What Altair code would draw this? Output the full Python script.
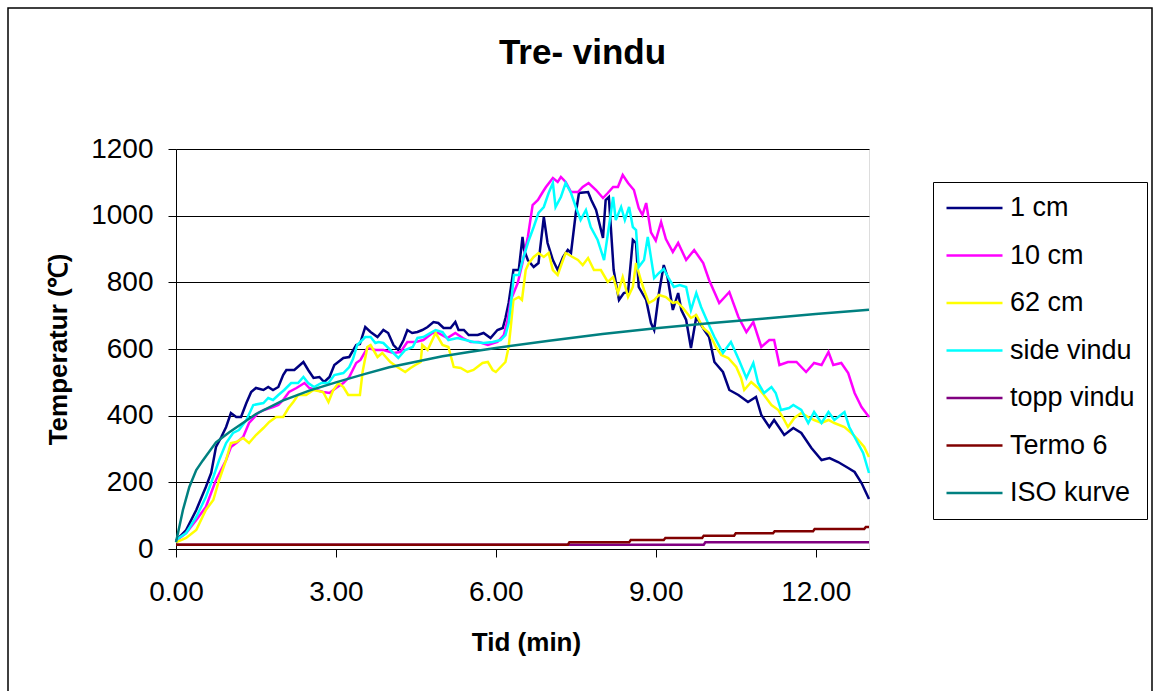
import altair as alt
import pandas as pd

SERIES = ["1 cm", "10 cm", "62 cm", "side vindu", "topp vindu", "Termo 6", "ISO kurve"]
COLORS = ["#000080", "#FF00FF", "#FFFF00", "#00FFFF", "#800080", "#800000", "#008080"]

X_TICKS = [0, 3, 6, 9, 12]
Y_TICKS = [0, 200, 400, 600, 800, 1000, 1200]

# ---- 1 cm ----
t_1cm = [0, 0.19, 0.38, 0.56, 0.66, 0.75, 0.85, 0.94, 1.03, 1.13,
         1.22, 1.32, 1.41, 1.50, 1.64, 1.73, 1.82, 1.92, 2.01, 2.07,
         2.22, 2.39, 2.48, 2.58, 2.69, 2.78, 2.88, 2.97, 3.14, 3.25,
         3.38, 3.45, 3.55, 3.65, 3.78, 3.89, 3.98, 4.08, 4.17, 4.27,
         4.34, 4.43, 4.53, 4.62, 4.72, 4.83, 4.92, 5.02, 5.15, 5.24,
         5.30, 5.40, 5.49, 5.66, 5.77, 5.90, 6.03, 6.13, 6.18, 6.24,
         6.33, 6.43, 6.50, 6.53, 6.60, 6.71, 6.80, 6.90, 6.97, 7.07,
         7.16, 7.26, 7.35, 7.41, 7.50, 7.56, 7.73, 7.79, 7.88, 8.01,
         8.06, 8.12, 8.21, 8.31, 8.40, 8.48, 8.57, 8.63, 8.68, 8.82,
         8.91, 8.97, 9.06, 9.15, 9.22, 9.32, 9.42, 9.48, 9.57, 9.66,
         9.76, 9.91, 10.0, 10.1, 10.26, 10.38, 10.55, 10.73, 10.88, 10.98,
         11.13, 11.22, 11.41, 11.58, 11.73, 11.92, 12.11, 12.26, 12.42, 12.61,
         12.73, 12.86, 13.0]
v_1cm = [25, 57, 117, 186, 228, 306, 336, 366, 408, 396,
         396, 438, 471, 483, 477, 486, 477, 486, 522, 537,
         537, 561, 537, 513, 516, 501, 516, 552, 573, 576,
         612, 615, 666, 651, 636, 657, 648, 612, 597, 627,
         657, 648, 651, 657, 666, 681, 678, 663, 663, 681,
         657, 657, 642, 642, 648, 633, 657, 663, 693, 738,
         837, 837, 936, 897, 867, 846, 858, 996, 918, 867,
         837, 876, 897, 888, 1008, 1068, 1071, 1047, 1017, 933,
         1047, 1056, 837, 747, 768, 771, 927, 918, 786, 747,
         678, 657, 768, 852, 816, 717, 768, 717, 687, 603,
         696, 657, 636, 561, 531, 477, 462, 441, 456, 402,
         366, 387, 342, 363, 348, 303, 267, 273, 261, 243,
         231, 198, 150]

# ---- 10 cm ----
t_10cm = [0, 0.19, 0.38, 0.56, 0.75, 0.94, 1.03, 1.13, 1.26, 1.37,
          1.54, 1.65, 1.82, 1.92, 2.01, 2.12, 2.26, 2.41, 2.50, 2.63,
          2.76, 2.88, 3.0, 3.14, 3.25, 3.38, 3.46, 3.59, 3.74, 3.89,
          4.08, 4.21, 4.34, 4.49, 4.64, 4.81, 4.92, 5.09, 5.24, 5.38,
          5.53, 5.68, 5.85, 6.03, 6.15, 6.22, 6.28, 6.41, 6.50, 6.60,
          6.69, 6.79, 6.88, 6.94, 7.07, 7.16, 7.22, 7.31, 7.41, 7.54,
          7.63, 7.74, 7.88, 8.01, 8.10, 8.20, 8.29, 8.38, 8.48, 8.59,
          8.68, 8.75, 8.82, 8.91, 9.0, 9.10, 9.19, 9.32, 9.42, 9.57,
          9.72, 9.89, 10.0, 10.19, 10.38, 10.55, 10.70, 10.83, 10.98, 11.13,
          11.22, 11.32, 11.48, 11.64, 11.82, 11.97, 12.11, 12.24, 12.33, 12.48,
          12.61, 12.73, 12.86, 13.0]
v_10cm = [25, 48, 87, 126, 207, 267, 306, 318, 336, 378,
          408, 417, 426, 432, 447, 471, 483, 498, 483, 477,
          471, 468, 483, 498, 516, 558, 567, 603, 597, 597,
          588, 591, 621, 621, 627, 648, 648, 633, 648, 633,
          621, 621, 612, 621, 642, 687, 747, 798, 858, 936,
          1032, 1047, 1071, 1086, 1113, 1101, 1116, 1101, 1071, 1071,
          1086, 1098, 1077, 1053, 1068, 1086, 1086, 1122, 1098, 1077,
          1023, 1002, 1038, 950, 925, 981, 930, 891, 918, 867,
          897, 858, 807, 738, 771, 696, 651, 681, 606, 627,
          627, 552, 561, 561, 531, 558, 552, 591, 552, 558,
          528, 468, 426, 396]

# ---- 62 cm ----
t_62cm = [0, 0.19, 0.38, 0.56, 0.70, 0.81, 0.94, 1.03, 1.13, 1.26,
          1.37, 1.50, 1.64, 1.75, 1.88, 2.01, 2.11, 2.20, 2.29, 2.44,
          2.58, 2.76, 2.86, 2.95, 3.05, 3.14, 3.23, 3.45, 3.50, 3.59,
          3.65, 3.78, 3.87, 4.02, 4.15, 4.30, 4.40, 4.49, 4.59, 4.62,
          4.72, 4.87, 5.0, 5.11, 5.21, 5.34, 5.47, 5.58, 5.75, 5.85,
          5.94, 6.0, 6.09, 6.18, 6.24, 6.28, 6.33, 6.43, 6.49, 6.56,
          6.62, 6.71, 6.80, 6.90, 6.99, 7.07, 7.16, 7.26, 7.31, 7.44,
          7.54, 7.63, 7.73, 7.84, 7.97, 8.10, 8.20, 8.29, 8.38, 8.48,
          8.57, 8.63, 8.72, 8.78, 8.87, 8.97, 9.06, 9.19, 9.32, 9.40,
          9.51, 9.66, 9.76, 9.89, 10.0, 10.13, 10.23, 10.36, 10.51, 10.60,
          10.66, 10.79, 10.92, 11.03, 11.17, 11.30, 11.39, 11.48, 11.60, 11.73,
          11.86, 11.97, 12.11, 12.24, 12.35, 12.54, 12.67, 12.80, 12.91, 13.0]
v_62cm = [20, 33, 57, 117, 147, 207, 267, 318, 321, 333,
          318, 342, 363, 381, 396, 396, 423, 441, 462, 462,
          477, 471, 441, 477, 498, 486, 462, 462, 531, 606,
          612, 576, 588, 561, 546, 531, 543, 552, 561, 612,
          597, 648, 612, 606, 546, 543, 531, 537, 558, 561,
          537, 531, 546, 561, 606, 666, 747, 756, 747, 837,
          858, 876, 888, 876, 888, 837, 822, 867, 888, 876,
          867, 852, 873, 837, 837, 801, 816, 768, 816, 756,
          786, 858, 807, 777, 738, 747, 762, 756, 738, 741,
          723, 693, 702, 663, 648, 606, 582, 573, 546, 513,
          477, 501, 483, 462, 432, 417, 393, 366, 393, 408,
          396, 387, 378, 387, 378, 366, 348, 327, 306, 276]

# ---- side vindu ----
t_side = [0, 0.19, 0.38, 0.56, 0.70, 0.81, 0.94, 1.07, 1.18, 1.32,
          1.45, 1.64, 1.73, 1.82, 1.92, 2.03, 2.16, 2.29, 2.39, 2.48,
          2.59, 2.73, 2.86, 2.97, 3.14, 3.25, 3.32, 3.40, 3.55, 3.65,
          3.74, 3.80, 3.89, 4.02, 4.17, 4.30, 4.44, 4.53, 4.64, 4.77,
          4.87, 5.0, 5.11, 5.28, 5.43, 5.58, 5.77, 5.94, 6.09, 6.18,
          6.24, 6.29, 6.34, 6.43, 6.52, 6.62, 6.71, 6.80, 6.90, 6.99,
          7.07, 7.12, 7.22, 7.31, 7.41, 7.50, 7.59, 7.69, 7.78, 7.91,
          8.03, 8.12, 8.20, 8.25, 8.35, 8.42, 8.50, 8.57, 8.63, 8.68,
          8.78, 8.85, 8.97, 9.06, 9.15, 9.25, 9.34, 9.45, 9.57, 9.66,
          9.76, 9.85, 9.98, 10.1, 10.26, 10.41, 10.56, 10.70, 10.83, 10.92,
          11.03, 11.17, 11.25, 11.35, 11.50, 11.58, 11.73, 11.86, 11.97, 12.11,
          12.24, 12.35, 12.54, 12.63, 12.76, 12.89, 13.0]
v_side = [27, 48, 96, 156, 216, 267, 318, 348, 357, 387,
          432, 438, 453, 447, 462, 477, 498, 498, 516, 498,
          486, 498, 498, 522, 528, 546, 570, 612, 636, 636,
          618, 621, 618, 597, 573, 597, 606, 633, 636, 648,
          657, 651, 627, 633, 627, 621, 618, 621, 627, 642,
          678, 747, 822, 822, 876, 927, 966, 1008, 1026, 1068,
          1098, 1026, 1056, 1098, 1068, 1026, 987, 1017, 966, 927,
          867, 966, 1056, 987, 1026, 987, 1026, 966, 957, 846,
          867, 936, 813, 828, 840, 810, 786, 792, 786, 717,
          768, 726, 678, 636, 588, 621, 567, 513, 558, 498,
          468, 486, 468, 417, 423, 432, 417, 378, 411, 378,
          411, 387, 411, 366, 327, 288, 228]

# ---- topp vindu ----
t_topp = [0, 9.90, 9.93, 13.0]
v_topp = [13, 13, 20, 20]

# ---- Termo 6 ----
t_termo = [0, 7.35, 7.38, 8.50, 8.53, 9.15, 9.18, 9.87, 9.90, 10.47,
           10.50, 11.20, 11.23, 11.95, 11.98, 12.91, 12.94, 13.0]
v_termo = [13, 13, 20, 20, 27, 27, 33, 33, 40, 40,
           47, 47, 53, 53, 60, 60, 66, 66]

# ---- ISO kurve ----
t_iso = [0, 0.13, 0.25, 0.38, 0.5, 0.75, 1.0, 1.5, 2.0, 2.5,
         3.0, 3.5, 4.0, 4.5, 5.0, 5.5, 6.0, 7.0, 8.0, 9.0,
         10.0, 11.0, 12.0, 13.0]
v_iso = [20, 117, 186, 237, 265, 320, 350, 405, 445, 475,
         500, 523, 545, 562, 578, 591, 603, 625, 645, 662,
         677, 691, 705, 718]

SOURCES = [
    ("1 cm", t_1cm, v_1cm),
    ("10 cm", t_10cm, v_10cm),
    ("62 cm", t_62cm, v_62cm),
    ("side vindu", t_side, v_side),
    ("topp vindu", t_topp, v_topp),
    ("Termo 6", t_termo, v_termo),
    ("ISO kurve", t_iso, v_iso),
]

rows = []
for name, ts, vs in SOURCES:
    n = min(len(ts), len(vs))
    for i in range(n):
        rows.append({"series": name, "tid": ts[i], "temp": vs[i], "idx": i})
df = pd.DataFrame(rows)

FONT = "Liberation Sans"

color_scale = alt.Scale(domain=SERIES, range=COLORS)
legend = alt.Legend(
    orient="none", legendX=757, legendY=33, title=None,
    symbolType="stroke", symbolSize=3136, symbolStrokeWidth=2.5,
    labelFont=FONT, labelFontSize=27, labelColor="black", labelOffset=6,
    labelLimit=400, strokeColor="black", fillColor="white",
    padding=12, rowPadding=19.5, clipHeight=28,
)

x_axis = alt.Axis(
    values=X_TICKS, format=".2f", grid=False,
    labelFont=FONT, labelFontSize=28, labelColor="black", labelPadding=21,
    labelFlush=False, labelOverlap=False,
    tickSize=8, tickColor="black", domainColor="black", domainWidth=1,
    title="Tid (min)", titleFont=FONT, titleFontSize=26, titleFontWeight="bold",
    titleColor="black", titleX=350, titleY=101, titleBaseline="alphabetic",
    titleAlign="center",
)
y_axis = alt.Axis(
    values=Y_TICKS, format="d", grid=True, gridColor="black", gridWidth=1,
    gridOpacity=1,
    labelFont=FONT, labelFontSize=28, labelColor="black", labelPadding=15,
    labelFlush=False, labelOverlap=False,
    tickSize=8, tickColor="black", domainColor="black", domainWidth=1,
    title="Temperatur (℃)", titleFont=FONT, titleFontSize=26, titleFontWeight="bold",
    titleColor="black", titleAngle=270, titleX=-110, titleY=200,
    titleBaseline="alphabetic", titleAlign="center",
)

base = alt.Chart(df)
layers = []
for s in SERIES:
    layers.append(
        base.transform_filter(alt.datum.series == s)
        .mark_line(strokeWidth=2.5)
        .encode(
            x=alt.X("tid:Q", scale=alt.Scale(domain=[0, 13], nice=False, zero=False), axis=x_axis),
            y=alt.Y("temp:Q", scale=alt.Scale(domain=[0, 1200], nice=False), axis=y_axis),
            color=alt.Color("series:N", scale=color_scale, legend=legend),
            order=alt.Order("idx:Q"),
        )
    )

border = alt.Chart(alt.Data(values=[{}])).mark_rect(
    fillOpacity=0, stroke="black", strokeWidth=1.5
).encode(
    x=alt.value(-168), x2=alt.value(976), y=alt.value(-141), y2=alt.value(560)
)

chart = alt.layer(*layers, border).properties(
    width=693, height=400,
    autosize=alt.AutoSizeParams(type="none"),
    padding={"left": 176, "top": 149, "right": 287, "bottom": 142},
    title=alt.TitleParams(
        "Tre- vindu", font=FONT, fontSize=35, fontWeight="bold", color="black",
        anchor="middle", dx=60, offset=-92, baseline="alphabetic",
    ),
).configure_view(
    fill="#C0C0C0", stroke="#808080", strokeWidth=2
).configure(background="white")

chart.save("out.html", embed_options={"renderer": "svg", "actions": False})
